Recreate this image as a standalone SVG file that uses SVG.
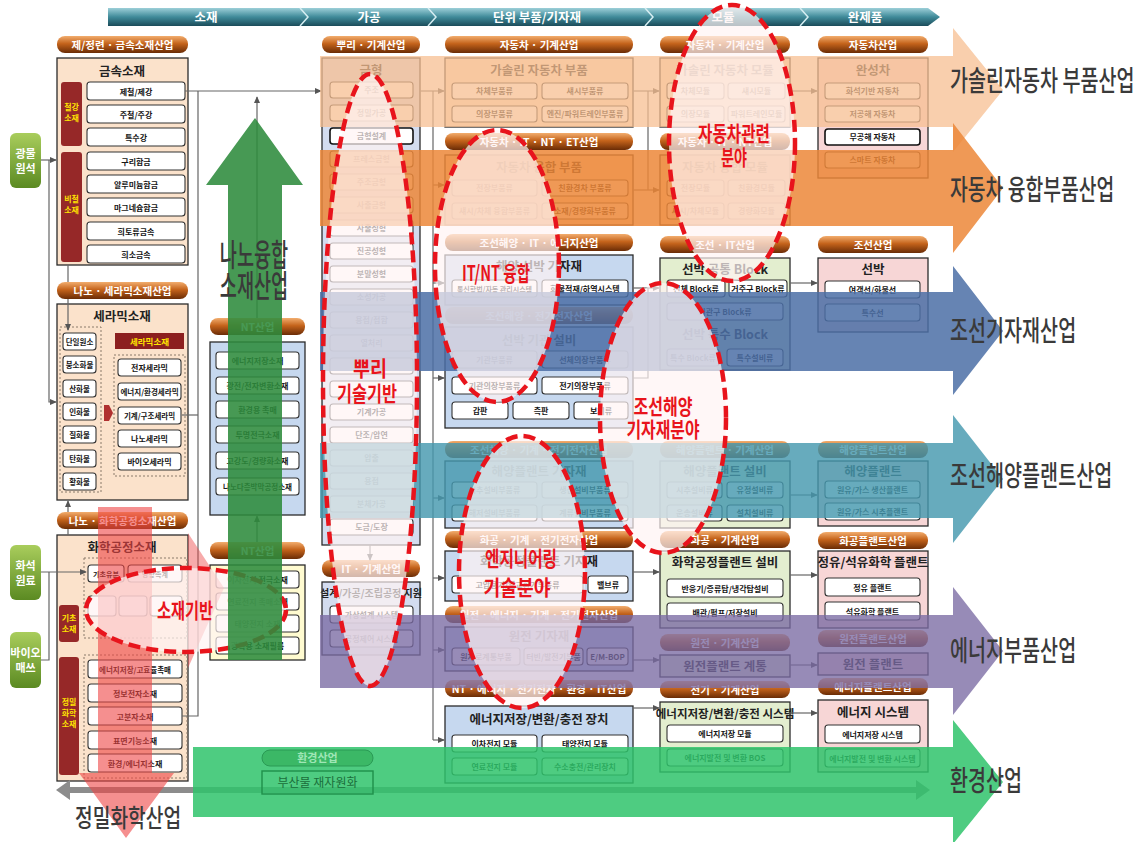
<svg xmlns="http://www.w3.org/2000/svg" width="1142" height="842" viewBox="0 0 1142 842" style="font-family:'Noto Sans CJK KR','Noto Sans',sans-serif">
<defs>
<linearGradient id="pillG" x1="0" y1="0" x2="0" y2="1"><stop offset="0" stop-color="#f2ad6e"/><stop offset=".45" stop-color="#c4631b"/><stop offset="1" stop-color="#6a2c06"/></linearGradient>
<linearGradient id="hdrG" x1="0" y1="0" x2="0" y2="1"><stop offset="0" stop-color="#9ccfd8"/><stop offset=".5" stop-color="#3f8a99"/><stop offset="1" stop-color="#1b4c5a"/></linearGradient>
<linearGradient id="srcG" x1="0" y1="0" x2="0" y2="1"><stop offset="0" stop-color="#a9cd5c"/><stop offset="1" stop-color="#5b8a22"/></linearGradient>
<marker id="ah" viewBox="0 0 8 8" refX="7" refY="4" markerWidth="7" markerHeight="7" orient="auto-start-reverse" markerUnits="userSpaceOnUse"><path d="M0,0.5 L8,4 L0,7.5 Z" fill="#555"/></marker>
</defs>
<style>
.pill{fill:url(#pillG)}
.pt{font-size:10.5px;font-weight:bold;fill:#fff;text-anchor:middle}
.bx{stroke:#2b2b2b;stroke-width:1.3}
.pe{fill:#fbe2cb}.bl{fill:#c6d8ef}.gr{fill:#e3eecf}.pk{fill:#f7d6d6}.lv{fill:#d3dcef}
.b{fill:#fff;stroke:#333;stroke-width:1.1}
.bt{font-size:8px;font-weight:bold;fill:#151515;text-anchor:middle}
.tt{font-size:12.5px;font-weight:bold;fill:#222;text-anchor:middle}
.rd{fill:#962828}
.rl{font-size:8px;font-weight:bold;fill:#ffe400;text-anchor:middle}
.st{font-size:11px;font-weight:bold;fill:#fff;text-anchor:middle}
.ln{stroke:#666;stroke-width:1.2;fill:none}
.la{marker-end:url(#ah)}
.dot{fill:none;stroke:#8a7a6a;stroke-width:1;stroke-dasharray:2 2}
.ell{fill:#fff4f4;fill-opacity:.7;stroke:#e8141c;stroke-width:4.5;stroke-dasharray:12 6}
.et{font-size:21px;font-weight:bold;fill:#e8141c;text-anchor:middle}
.big{font-size:28px;font-weight:500;fill:#3a3a3a}
.hl{font-size:12.5px;font-weight:bold;fill:#fff;text-anchor:middle}
</style>
<rect width="1142" height="842" fill="#fff"/>

<!-- stage header -->
<g id="header">
<path d="M108,8 H928 L940,17 L928,26 H108 Z" fill="url(#hdrG)"/>
<g fill="none" stroke="#d6eef2" stroke-width="1.5"><path d="M300,8 L308,17 L300,26"/><path d="M428,8 L436,17 L428,26"/><path d="M645,8 L653,17 L645,26"/><path d="M800,8 L808,17 L800,26"/></g>
<text class="hl" x="206" y="22">소재</text><text class="hl" x="369" y="22">가공</text><text class="hl" x="537" y="22">단위 부품/기자재</text><text class="hl" x="723" y="22">모듈</text><text class="hl" x="865" y="22">완제품</text>
</g>

<!-- raw material sources -->
<g id="src-mineral"><rect x="10" y="133" width="31" height="55" rx="6" fill="url(#srcG)"/><text class="st" x="25.5" y="158">광물</text><text class="st" x="25.5" y="173">원석</text></g>
<g id="src-fossil"><rect x="10" y="545" width="31" height="55" rx="6" fill="url(#srcG)"/><text class="st" x="25.5" y="570">화석</text><text class="st" x="25.5" y="585">원료</text></g>
<g id="src-bio"><rect x="10" y="632" width="31" height="56" rx="6" fill="url(#srcG)"/><text class="st" x="25.5" y="657">바이오</text><text class="st" x="25.5" y="672">매쓰</text></g>

<!-- metal materials -->
<g id="metal">
<rect class="pill" x="57" y="36" width="131" height="17" rx="8"/><text class="pt" x="122.5" y="48.5">제/정련 · 금속소재산업</text>
<rect class="bx pe" x="57" y="58" width="131" height="207"/>
<text class="tt" x="122" y="76">금속소재</text>
<rect class="rd" x="61" y="82" width="21" height="64" rx="3"/><text class="rl" x="71.5" y="110">철강</text><text class="rl" x="71.5" y="121">소재</text>
<rect class="rd" x="61" y="152" width="21" height="110" rx="3"/><text class="rl" x="71.5" y="202">비철</text><text class="rl" x="71.5" y="213">소재</text>
<rect class="b" x="87" y="82" width="98" height="18" rx="3"/><text class="bt" x="136" y="94.5">제철/제강</text>
<rect class="b" x="87" y="105" width="98" height="18" rx="3"/><text class="bt" x="136" y="117.5">주철/주강</text>
<rect class="b" x="87" y="128" width="98" height="18" rx="3"/><text class="bt" x="136" y="140.5">특수강</text>
<rect class="b" x="87" y="152" width="98" height="18" rx="3"/><text class="bt" x="136" y="164.5">구리합금</text>
<rect class="b" x="87" y="175" width="98" height="18" rx="3"/><text class="bt" x="136" y="187.5">알루미늄합금</text>
<rect class="b" x="87" y="198" width="98" height="18" rx="3"/><text class="bt" x="136" y="210.5">마그네슘합금</text>
<rect class="b" x="87" y="222" width="98" height="18" rx="3"/><text class="bt" x="136" y="234.5">희토류금속</text>
<rect class="b" x="87" y="245" width="98" height="18" rx="3"/><text class="bt" x="136" y="257.5">희소금속</text>
</g>

<!-- ceramic materials -->
<g id="ceramic">
<rect class="pill" x="57" y="282" width="131" height="17" rx="8"/><text class="pt" x="122.5" y="294.5">나노 · 세라믹소재산업</text>
<rect class="bx pe" x="57" y="304" width="131" height="196"/>
<text class="tt" x="122" y="321">세라믹소재</text>
<rect class="dot" x="60" y="327" width="41" height="165"/>
<rect class="b" x="63" y="333" width="33" height="17" rx="3"/><text class="bt" x="79.5" y="344.5" style="font-size:7.5px">단일원소</text>
<rect class="b" x="63" y="356" width="33" height="17" rx="3"/><text class="bt" x="79.5" y="367.5" style="font-size:7.5px">붕소화물</text>
<rect class="b" x="63" y="380" width="33" height="17" rx="3"/><text class="bt" x="79.5" y="391.5" style="font-size:7.5px">산화물</text>
<rect class="b" x="63" y="403" width="33" height="17" rx="3"/><text class="bt" x="79.5" y="414.5" style="font-size:7.5px">인화물</text>
<rect class="b" x="63" y="426" width="33" height="17" rx="3"/><text class="bt" x="79.5" y="437.5" style="font-size:7.5px">질화물</text>
<rect class="b" x="63" y="450" width="33" height="17" rx="3"/><text class="bt" x="79.5" y="461.5" style="font-size:7.5px">탄화물</text>
<rect class="b" x="63" y="473" width="33" height="17" rx="3"/><text class="bt" x="79.5" y="484.5" style="font-size:7.5px">황화물</text>
<polygon points="104,405 109,405 113,413 109,421 104,421" fill="#b03030"/>
<rect x="115" y="333" width="69" height="16" fill="#8c1f1f"/><text class="rl" x="149.5" y="344.5" style="font-size:8.5px">세라믹소재</text>
<rect class="dot" x="114" y="355" width="71" height="121"/>
<rect class="b" x="118" y="359" width="63" height="17" rx="3"/><text class="bt" x="149.5" y="370.5">전자세라믹</text>
<rect class="b" x="118" y="383" width="63" height="17" rx="3"/><text class="bt" x="149.5" y="394.5" style="font-size:7.5px">에너지/환경세라믹</text>
<rect class="b" x="118" y="407" width="63" height="17" rx="3"/><text class="bt" x="149.5" y="418.5" style="font-size:7.5px">기계/구조세라믹</text>
<rect class="b" x="118" y="430" width="63" height="17" rx="3"/><text class="bt" x="149.5" y="441.5">나노세라믹</text>
<rect class="b" x="118" y="453" width="63" height="17" rx="3"/><text class="bt" x="149.5" y="464.5">바이오세라믹</text>
</g>

<!-- chemical process materials -->
<g id="chemical">
<rect class="pill" x="57" y="512" width="131" height="17" rx="8"/><text class="pt" x="122.5" y="524.5">나노 · 화학공정소재산업</text>
<rect class="bx pe" x="57" y="535" width="131" height="246"/>
<text class="tt" x="122" y="552">화학공정소재</text>
<rect class="dot" x="84" y="558" width="103" height="80"/>
<rect class="dot" x="84" y="655" width="103" height="123"/>
<rect class="b" x="88" y="565" width="36" height="17" rx="3"/><text class="bt" x="106" y="576.5" style="font-size:7px">기초유분</text>
<rect class="b" x="128" y="565" width="54" height="17" rx="3"/><text class="bt" x="155" y="576.5" style="font-size:7px">방향족계</text>
<rect class="b" x="88" y="596" width="28" height="20" rx="3"/>
<rect class="b" x="119" y="596" width="28" height="20" rx="3"/>
<rect class="b" x="150" y="596" width="32" height="20" rx="3"/>
<rect class="rd" x="59" y="605" width="20" height="37" rx="3"/><text class="rl" x="69" y="621">기초</text><text class="rl" x="69" y="632">소재</text>
<rect class="rd" x="59" y="657" width="20" height="118" rx="3"/><text class="rl" x="69" y="705">정밀</text><text class="rl" x="69" y="716">화학</text><text class="rl" x="69" y="727">소재</text>
<rect class="b" x="88" y="660" width="94" height="18" rx="3"/><text class="bt" x="135" y="672.5" style="font-size:7.5px">에너지저장/고효율촉매</text>
<rect class="b" x="88" y="684" width="94" height="18" rx="3"/><text class="bt" x="135" y="696.5">정보전자소재</text>
<rect class="b" x="88" y="707" width="94" height="18" rx="3"/><text class="bt" x="135" y="719.5">고분자소재</text>
<rect class="b" x="88" y="731" width="94" height="18" rx="3"/><text class="bt" x="135" y="743.5">표면기능소재</text>
<rect class="b" x="88" y="754" width="94" height="18" rx="3"/><text class="bt" x="135" y="766.5">환경/에너지소재</text>
</g>

<!-- NT materials -->
<g id="nt-1">
<rect class="pill" x="210" y="318" width="95" height="17" rx="8"/><text class="pt" x="257.5" y="330.5">NT산업</text>
<rect class="bx bl" x="210" y="342" width="95" height="173"/>
<rect class="b" x="216" y="352" width="83" height="17" rx="3"/><text class="bt" x="257.5" y="363.5">에너지저장소재</text>
<rect class="b" x="216" y="377" width="83" height="17" rx="3"/><text class="bt" x="257.5" y="388.5">광전/전자변환소재</text>
<rect class="b" x="216" y="401" width="83" height="17" rx="3"/><text class="bt" x="257.5" y="412.5">환경용 촉매</text>
<rect class="b" x="216" y="426" width="83" height="17" rx="3"/><text class="bt" x="257.5" y="437.5">투명전극소재</text>
<rect class="b" x="216" y="452" width="83" height="17" rx="3"/><text class="bt" x="257.5" y="463.5">고강도/경량화소재</text>
<rect class="b" x="216" y="478" width="83" height="17" rx="3"/><text class="bt" x="257.5" y="489.5" style="font-size:7.5px">나노다층박막공정소재</text>
</g>
<g id="nt-2">
<rect class="pill" x="210" y="542" width="95" height="17" rx="8"/><text class="pt" x="257.5" y="554.5">NT산업</text>
<rect class="bx" x="210" y="565" width="95" height="95" fill="#fffbd0"/>
<rect class="b" x="216" y="571" width="83" height="17" rx="3"/><text class="bt" x="257.5" y="582.5">이차전지 전극소재</text>
<rect class="b" x="216" y="593" width="83" height="17" rx="3"/><text class="bt" x="257.5" y="604.5">연료전지 촉매소재</text>
<rect class="b" x="216" y="615" width="83" height="17" rx="3"/><text class="bt" x="257.5" y="626.5">태양전지 소재</text>
<rect class="b" x="216" y="637" width="83" height="17" rx="3"/><text class="bt" x="257.5" y="648.5">광학용 소재필름</text>
</g>

<!-- root technology (뿌리) -->
<g id="root">
<rect class="pill" x="322" y="36" width="98" height="17" rx="8"/><text class="pt" x="371" y="48.5">뿌리 · 기계산업</text>
<rect class="bx lv" x="322" y="58" width="98" height="487"/>
<text class="tt" x="371" y="75">금형</text>
<rect class="b" x="330" y="82" width="83" height="16" rx="3"/><text class="bt" x="371.5" y="93">주조</text>
<rect class="b" x="330" y="105" width="83" height="16" rx="3"/><text class="bt" x="371.5" y="116">정밀가공</text>
<rect class="b" x="330" y="128" width="83" height="16" rx="3" style="stroke:#111;stroke-width:1.6"/><text class="bt" x="371.5" y="139">금형설계</text>
<rect class="b" x="330" y="151" width="83" height="16" rx="3"/><text class="bt" x="371.5" y="162">프레스금형</text>
<rect class="b" x="330" y="174" width="83" height="16" rx="3"/><text class="bt" x="371.5" y="185">주조금형</text>
<rect class="b" x="330" y="197" width="83" height="16" rx="3"/><text class="bt" x="371.5" y="208">사출금형</text>
<rect class="b" x="330" y="220" width="83" height="16" rx="3"/><text class="bt" x="371.5" y="231">사출성형</text>
<rect class="b" x="330" y="243" width="83" height="16" rx="3"/><text class="bt" x="371.5" y="254">진공성형</text>
<rect class="b" x="330" y="266" width="83" height="16" rx="3"/><text class="bt" x="371.5" y="277">분말성형</text>
<rect class="b" x="330" y="289" width="83" height="16" rx="3"/><text class="bt" x="371.5" y="300">소성가공</text>
<rect class="b" x="330" y="312" width="83" height="16" rx="3"/><text class="bt" x="371.5" y="323">용접/접합</text>
<rect class="b" x="330" y="335" width="83" height="16" rx="3"/><text class="bt" x="371.5" y="346">열처리</text>
<rect class="b" x="330" y="358" width="83" height="16" rx="3"/>
<rect class="b" x="330" y="381" width="83" height="16" rx="3"/>
<rect class="b" x="330" y="404" width="83" height="16" rx="3"/><text class="bt" x="371.5" y="415">기계가공</text>
<rect class="b" x="330" y="427" width="83" height="16" rx="3"/><text class="bt" x="371.5" y="438">단조/압연</text>
<rect class="b" x="330" y="450" width="83" height="16" rx="3"/><text class="bt" x="371.5" y="461">압출</text>
<rect class="b" x="330" y="473" width="83" height="16" rx="3"/><text class="bt" x="371.5" y="484">용접</text>
<rect class="b" x="330" y="496" width="83" height="16" rx="3"/><text class="bt" x="371.5" y="507">분체가공</text>
<rect class="b" x="330" y="519" width="83" height="16" rx="3"/><text class="bt" x="371.5" y="530">도금/도장</text>
</g>
<g id="root-it">
<rect class="pill" x="322" y="560" width="98" height="17" rx="8"/><text class="pt" x="371" y="572.5">IT · 기계산업</text>
<rect class="bx lv" x="322" y="582" width="98" height="73"/>
<text x="371" y="597" style="font-size:10px;font-weight:bold;fill:#222;text-anchor:middle">설계/가공/조립공정 지원</text>
<rect class="b" x="330" y="606" width="83" height="17" rx="3"/><text class="bt" x="371.5" y="617.5">가상설계 시스템</text>
<rect class="b" x="330" y="630" width="83" height="17" rx="3"/><text class="bt" x="371.5" y="641.5">공정제어 시스템</text>
</g>

<!-- unit parts / equipment -->
<g id="part-gasoline">
<rect class="pill" x="445" y="36" width="188" height="17" rx="8"/><text class="pt" x="539" y="48.5">자동차 · 기계산업</text>
<rect class="bx pe" x="445" y="58" width="188" height="69"/>
<text class="tt" x="539" y="75">가솔린 자동차 부품</text>
<rect class="b" x="452" y="83" width="85" height="16" rx="3"/><text class="bt" x="494.5" y="94">차체부품류</text>
<rect class="b" x="542" y="83" width="86" height="16" rx="3"/><text class="bt" x="585" y="94">섀시부품류</text>
<rect class="b" x="452" y="106" width="85" height="16" rx="3"/><text class="bt" x="494.5" y="117">의장부품류</text>
<rect class="b" x="542" y="106" width="86" height="16" rx="3"/><text class="bt" x="585" y="117">엔진/파워트레인부품류</text>
</g>
<g id="part-fusion">
<rect class="pill" x="445" y="133" width="188" height="17" rx="8"/><text class="pt" x="539" y="145.5">자동차 · IT · NT · ET산업</text>
<rect class="bx pe" x="445" y="155" width="188" height="70"/>
<text class="tt" x="539" y="172">자동차 융합 부품</text>
<rect class="b" x="452" y="180" width="85" height="16" rx="3"/><text class="bt" x="494.5" y="191">전장부품류</text>
<rect class="b" x="542" y="180" width="86" height="16" rx="3"/><text class="bt" x="585" y="191">친환경차 부품류</text>
<rect class="b" x="452" y="203" width="85" height="16" rx="3"/><text class="bt" x="494.5" y="214">섀시/차체 융합부품류</text>
<rect class="b" x="542" y="203" width="86" height="16" rx="3"/><text class="bt" x="585" y="214">소재/경량화부품류</text>
</g>
<g id="part-ship">
<rect class="pill" x="445" y="234" width="188" height="17" rx="8"/><text class="pt" x="539" y="246.5">조선해양 · IT · 에너지산업</text>
<rect class="bx bl" x="445" y="255" width="188" height="50"/>
<text class="tt" x="539" y="271">해양 선박 기자재</text>
<rect class="b" x="452" y="280" width="85" height="17" rx="3"/><text class="bt" x="494.5" y="291.5" style="font-size:7px">통신항법/자동 관리시스템</text>
<rect class="b" x="542" y="280" width="86" height="17" rx="3"/><text class="bt" x="585" y="291.5">화물적재/하역시스템</text>
</g>
<g id="part-engine">
<rect class="pill" x="445" y="307" width="188" height="17" rx="8"/><text class="pt" x="539" y="319.5">조선해양 · 전기전자산업</text>
<rect class="bx bl" x="445" y="327" width="188" height="101"/>
<text class="tt" x="539" y="345">선박 기관 설비</text>
<rect class="b" x="452" y="351" width="85" height="17" rx="3"/><text class="bt" x="494.5" y="362.5">기관부품류</text>
<rect class="b" x="542" y="351" width="86" height="17" rx="3"/><text class="bt" x="585" y="362.5">선체의장부품류</text>
<rect class="b" x="452" y="377" width="85" height="17" rx="3"/><text class="bt" x="494.5" y="388.5">기관의장부품류</text>
<rect class="b" x="542" y="377" width="86" height="17" rx="3"/><text class="bt" x="585" y="388.5">전기의장부품류</text>
<rect class="b" x="452" y="402" width="56" height="17" rx="3"/><text class="bt" x="480" y="413.5">갑판</text>
<rect class="b" x="513" y="402" width="56" height="17" rx="3"/><text class="bt" x="541" y="413.5">측판</text>
<rect class="b" x="574" y="402" width="54" height="17" rx="3"/><text class="bt" x="601" y="413.5">보기류</text>
</g>
<g id="part-offshore">
<rect class="pill" x="445" y="441" width="188" height="17" rx="8"/><text class="pt" x="539" y="453.5">조선해양 · 기계 · 전기전자산업</text>
<rect class="bx bl" x="445" y="461" width="188" height="67"/>
<text class="tt" x="539" y="476">해양플랜트 기자재</text>
<rect class="b" x="452" y="482" width="85" height="16" rx="3"/><text class="bt" x="494.5" y="493">시추설비부품류</text>
<rect class="b" x="542" y="482" width="86" height="16" rx="3"/><text class="bt" x="585" y="493">생산설비부품류</text>
<rect class="b" x="452" y="505" width="85" height="16" rx="3"/><text class="bt" x="494.5" y="516">해저설비부품류</text>
<rect class="b" x="542" y="505" width="86" height="16" rx="3"/><text class="bt" x="585" y="516">계류설비부품류</text>
</g>
<g id="part-chem">
<rect class="pill" x="445" y="531" width="188" height="17" rx="8"/><text class="pt" x="539" y="543.5">화공 · 기계 · 전기전자산업</text>
<rect class="bx bl" x="445" y="551" width="188" height="50"/>
<text class="tt" x="539" y="566">화학공정플랜트 기자재</text>
<rect class="b" x="452" y="576" width="131" height="17" rx="3"/><text class="bt" x="517.5" y="587.5">고압용기/열교환기부품류</text>
<rect class="b" x="588" y="576" width="40" height="17" rx="3"/><text class="bt" x="608" y="587.5">밸브류</text>
</g>
<g id="part-nuclear">
<rect class="pill" x="445" y="606" width="188" height="17" rx="8"/><text class="pt" x="539" y="618.5">원전 · 에너지 · 기계 · 전기전자산업</text>
<rect class="bx bl" x="445" y="627" width="188" height="44"/>
<text class="tt" x="539" y="641">원전 기자재</text>
<rect class="b" x="452" y="648" width="68" height="17" rx="3"/><text class="bt" x="486" y="659.5">원자로계통부품</text>
<rect class="b" x="524" y="648" width="59" height="17" rx="3"/><text class="bt" x="553.5" y="659.5">터빈/발전기부품</text>
<rect class="b" x="587" y="648" width="41" height="17" rx="3"/><text class="bt" x="607.5" y="659.5">E/M-BOP</text>
</g>
<g id="part-energy">
<rect class="pill" x="445" y="680" width="188" height="17" rx="8"/><text class="pt" x="539" y="692.5">NT · 에너지 · 전기전자 · 환경 · IT산업</text>
<rect class="bx bl" x="445" y="706" width="188" height="77"/>
<text class="tt" x="539" y="724">에너지저장/변환/충전 장치</text>
<rect class="b" x="452" y="735" width="85" height="17" rx="3"/><text class="bt" x="494.5" y="746.5">이차전지 모듈</text>
<rect class="b" x="542" y="735" width="86" height="17" rx="3"/><text class="bt" x="585" y="746.5">태양전지 모듈</text>
<rect class="b" x="452" y="758" width="85" height="17" rx="3"/><text class="bt" x="494.5" y="769.5">연료전지 모듈</text>
<rect class="b" x="542" y="758" width="86" height="17" rx="3"/><text class="bt" x="585" y="769.5">수소충전/관리장치</text>
</g>

<!-- modules -->
<g id="mod-gasoline">
<rect class="pill" x="660" y="36" width="130" height="17" rx="8"/><text class="pt" x="725" y="48.5">자동차 · 기계산업</text>
<rect class="bx pe" x="660" y="58" width="130" height="69"/>
<text class="tt" x="725" y="75">가솔린 자동차 모듈</text>
<rect class="b" x="667" y="83" width="57" height="16" rx="3"/><text class="bt" x="695.5" y="94">차체모듈</text>
<rect class="b" x="728" y="83" width="57" height="16" rx="3"/><text class="bt" x="756.5" y="94">섀시모듈</text>
<rect class="b" x="667" y="106" width="57" height="16" rx="3"/><text class="bt" x="695.5" y="117">의장모듈</text>
<rect class="b" x="728" y="106" width="57" height="16" rx="3"/><text class="bt" x="756.5" y="117">파워트레인모듈</text>
</g>
<g id="mod-fusion">
<rect class="pill" x="660" y="133" width="130" height="17" rx="8"/><text class="pt" x="725" y="145.5">자동차 · IT · NT산업</text>
<rect class="bx pe" x="660" y="155" width="130" height="70"/>
<text class="tt" x="725" y="172">자동차 융합 모듈</text>
<rect class="b" x="667" y="180" width="57" height="16" rx="3"/><text class="bt" x="695.5" y="191">전장모듈</text>
<rect class="b" x="728" y="180" width="57" height="16" rx="3"/><text class="bt" x="756.5" y="191">친환경모듈</text>
<rect class="b" x="667" y="203" width="57" height="16" rx="3"/><text class="bt" x="695.5" y="214">섀시/차체모듈</text>
<rect class="b" x="728" y="203" width="57" height="16" rx="3"/><text class="bt" x="756.5" y="214">경량화모듈</text>
</g>
<g id="mod-ship">
<rect class="pill" x="660" y="236" width="130" height="17" rx="8"/><text class="pt" x="725" y="248.5">조선 · IT산업</text>
<rect class="bx gr" x="660" y="258" width="130" height="112"/>
<text class="tt" x="725" y="274">선박 공통 Block</text>
<rect class="b" x="667" y="280" width="58" height="17" rx="3"/><text class="bt" x="696" y="291.5">선체 Block류</text>
<rect class="b" x="729" y="280" width="58" height="17" rx="3"/><text class="bt" x="758" y="291.5">거주구 Block류</text>
<rect class="b" x="667" y="303" width="116" height="17" rx="3"/><text class="bt" x="725" y="314.5">기관구 Block류</text>
<text class="tt" x="725" y="339">선박 특수 Block</text>
<rect class="b" x="667" y="349" width="52" height="17" rx="3"/><text class="bt" x="693" y="360.5">특수 Block류</text>
<rect class="b" x="727" y="349" width="56" height="17" rx="3"/><text class="bt" x="755" y="360.5">특수설비류</text>
</g>
<g id="mod-offshore">
<rect class="pill" x="660" y="441" width="130" height="17" rx="8"/><text class="pt" x="725" y="453.5">해양플랜트 · 기계산업</text>
<rect class="bx gr" x="660" y="461" width="130" height="67"/>
<text class="tt" x="725" y="476">해양플랜트 설비</text>
<rect class="b" x="667" y="482" width="55" height="16" rx="3"/><text class="bt" x="694.5" y="493">시추설비류</text>
<rect class="b" x="727" y="482" width="56" height="16" rx="3"/><text class="bt" x="755" y="493">유정설비류</text>
<rect class="b" x="667" y="505" width="55" height="16" rx="3"/><text class="bt" x="694.5" y="516">운송설비류</text>
<rect class="b" x="727" y="505" width="56" height="16" rx="3"/><text class="bt" x="755" y="516">설치설비류</text>
</g>
<g id="mod-chem">
<rect class="pill" x="660" y="531" width="130" height="17" rx="8"/><text class="pt" x="725" y="543.5">화공 · 기계산업</text>
<rect class="bx gr" x="660" y="551" width="130" height="77"/>
<text class="tt" x="725" y="567">화학공정플랜트 설비</text>
<rect class="b" x="667" y="579" width="116" height="18" rx="3"/><text class="bt" x="725" y="591.5">반응기/증류탑/냉각탑설비</text>
<rect class="b" x="667" y="603" width="116" height="18" rx="3"/><text class="bt" x="725" y="615.5">배관/펌프/저장설비</text>
</g>
<g id="mod-nuclear">
<rect class="pill" x="660" y="634" width="130" height="17" rx="8"/><text class="pt" x="725" y="646.5">원전 · 기계산업</text>
<rect class="bx gr" x="660" y="655" width="130" height="22"/>
<text class="tt" x="725" y="671">원전플랜트 계통</text>
</g>
<g id="mod-energy">
<rect class="pill" x="660" y="681" width="130" height="17" rx="8"/><text class="pt" x="725" y="693.5">전기 · 기계산업</text>
<rect class="bx gr" x="660" y="702" width="130" height="70"/>
<text x="725" y="718" style="font-size:11.5px;font-weight:bold;fill:#222;text-anchor:middle">에너지저장/변환/충전 시스템</text>
<rect class="b" x="667" y="725" width="116" height="17" rx="3"/><text class="bt" x="725" y="736.5">에너지저장 모듈</text>
<rect class="b" x="667" y="749" width="116" height="17" rx="3"/><text class="bt" x="725" y="760.5">에너지발전 및 변환 BOS</text>
</g>

<!-- finished products -->
<g id="prod-car">
<rect class="pill" x="818" y="36" width="110" height="17" rx="8"/><text class="pt" x="873" y="48.5">자동차산업</text>
<rect class="bx pk" x="818" y="58" width="110" height="120"/>
<text class="tt" x="873" y="75">완성차</text>
<rect class="b" x="825" y="83" width="95" height="16" rx="3"/><text class="bt" x="872.5" y="94">화석기반 자동차</text>
<rect class="b" x="825" y="106" width="95" height="16" rx="3"/><text class="bt" x="872.5" y="117">저공해 자동차</text>
<rect class="b" x="825" y="129" width="95" height="16" rx="3" style="stroke:#111;stroke-width:1.6"/><text class="bt" x="872.5" y="140">무공해 자동차</text>
<rect class="b" x="825" y="152" width="95" height="16" rx="3"/><text class="bt" x="872.5" y="163">스마트 자동차</text>
</g>
<g id="prod-ship">
<rect class="pill" x="818" y="236" width="110" height="17" rx="8"/><text class="pt" x="873" y="248.5">조선산업</text>
<rect class="bx pk" x="818" y="258" width="110" height="74"/>
<text class="tt" x="873" y="274">선박</text>
<rect class="b" x="825" y="281" width="95" height="17" rx="3"/><text class="bt" x="872.5" y="292.5">여객선/화물선</text>
<rect class="b" x="825" y="304" width="95" height="17" rx="3"/><text class="bt" x="872.5" y="315.5">특수선</text>
</g>
<g id="prod-offshore">
<rect class="pill" x="818" y="441" width="110" height="17" rx="8"/><text class="pt" x="873" y="453.5">해양플랜트산업</text>
<rect class="bx pk" x="818" y="461" width="110" height="65"/>
<text class="tt" x="873" y="476">해양플랜트</text>
<rect class="b" x="825" y="481" width="95" height="17" rx="3"/><text class="bt" x="872.5" y="492.5">원유/가스 생산플랜트</text>
<rect class="b" x="825" y="503" width="95" height="17" rx="3"/><text class="bt" x="872.5" y="514.5">원유/가스 시추플랜트</text>
</g>
<g id="prod-chem">
<rect class="pill" x="818" y="532" width="110" height="17" rx="8"/><text class="pt" x="873" y="544.5">화공플랜트산업</text>
<rect class="bx pk" x="818" y="551" width="110" height="77"/>
<text class="tt" x="873" y="567">정유/석유화학 플랜트</text>
<rect class="b" x="825" y="578" width="95" height="18" rx="3"/><text class="bt" x="872.5" y="590.5">정유 플랜트</text>
<rect class="b" x="825" y="602" width="95" height="18" rx="3"/><text class="bt" x="872.5" y="614.5">석유화학 플랜트</text>
</g>
<g id="prod-nuclear">
<rect class="pill" x="818" y="630" width="110" height="17" rx="8"/><text class="pt" x="873" y="642.5">원전플랜트산업</text>
<rect class="bx pk" x="818" y="653" width="110" height="22"/>
<text class="tt" x="873" y="669">원전 플랜트</text>
</g>
<g id="prod-energy">
<rect class="pill" x="818" y="678" width="110" height="17" rx="8"/><text class="pt" x="873" y="690.5">에너지플랜트산업</text>
<rect class="bx pk" x="818" y="700" width="110" height="72"/>
<text class="tt" x="873" y="717">에너지 시스템</text>
<rect class="b" x="825" y="725" width="95" height="18" rx="3"/><text class="bt" x="872.5" y="737.5">에너지저장 시스템</text>
<rect class="b" x="825" y="749" width="95" height="18" rx="3"/><text class="bt" x="872.5" y="761.5">에너지발전 및 변환 시스템</text>
</g>

<!-- connectors -->
<g id="connectors">
<path class="ln la" d="M41,160 H56"/>
<path class="ln la" d="M49,160 V402 H56"/>
<path class="ln la" d="M41,572 H86"/>
<path class="ln" d="M41,660 H49 V572"/>
<path class="ln" d="M68,265 V282"/>
<path class="ln la" d="M68,299 V330"/>
<path class="ln la" d="M68,512 V501"/>
<path class="ln" d="M68,529 V535"/>
<path class="ln la" d="M185,91 H321"/>
<path class="ln" d="M198,91 V716 H182"/>
<path class="ln" d="M182,415 H198"/>
<path class="ln la" d="M257,318 V97"/>
<path class="ln la" d="M257,542 V516"/>
<path class="ln la" d="M370,545 V560"/>
<path class="ln la" d="M420,91 H444"/>
<path class="ln" d="M433,91 V740"/>
<path class="ln la" d="M433,185 H444"/>
<path class="ln la" d="M433,283 H444"/>
<path class="ln la" d="M433,378 H444"/>
<path class="ln la" d="M433,498 H444"/>
<path class="ln la" d="M433,578 H444"/>
<path class="ln la" d="M433,650 H444"/>
<path class="ln la" d="M433,740 H444"/>
<path class="ln la" d="M633,91 H659"/>
<path class="ln la" d="M633,190 H659"/>
<path class="ln" d="M648,91 V190"/>
<path class="ln la" d="M633,288 H659"/>
<path class="ln" d="M633,378 H648 V288"/>
<path class="ln la" d="M633,572 H659"/>
<path class="ln la" d="M633,660 H659"/>
<path class="ln la" d="M633,708 H659"/>
<path class="ln la" d="M790,91 H817"/>
<path class="ln la" d="M790,283 H817"/>
<path class="ln la" d="M790,495 H817"/>
<path class="ln la" d="M790,575 H817"/>
<path class="ln la" d="M790,665 H817"/>
<path class="ln la" d="M790,713 H817"/>
<!-- two-way flow along the bottom -->
<path d="M64,790 H920" stroke="#8c8c8c" stroke-width="6" fill="none"/>
<polygon points="56,790 70,780 70,800" fill="#8c8c8c"/>
<polygon points="930,790 916,780 916,800" fill="#8c8c8c"/>
</g>

<!-- industry bands -->
<g id="bands">
<path d="M320,56 H953 V28 L1003,90 L953,152 V127 H320 Z" fill="#f7bf92" fill-opacity=".75"/>
<path d="M320,150 H953 V123 L1003,188 L953,253 V226 H320 Z" fill="#ec8738" fill-opacity=".85"/>
<path d="M320,292 H953 V266 L1003,331 L953,395 V371 H320 Z" fill="#4b6ea6" fill-opacity=".85"/>
<path d="M320,443 H953 V415 L1003,479 L953,543 V518 H320 Z" fill="#4599ae" fill-opacity=".82"/>
<path d="M320,615 H953 V587 L1003,651 L953,715 V688 H320 Z" fill="#7a6aa3" fill-opacity=".78"/>
<path d="M193,747 H953 V720 L1003,782 L953,844 V817 H193 Z" fill="#2fc36b" fill-opacity=".85"/>
</g>
<g id="env">
<rect x="262" y="750" width="111" height="16" rx="8" fill="#3bb866" stroke="#2a9a55"/>
<text x="317.5" y="762" style="font-size:11px;font-weight:bold;fill:#9fe6b6;text-anchor:middle">환경산업</text>
<rect x="262" y="771" width="111" height="23" fill="none" stroke="#1f8f4a" stroke-width="1.4"/>
<text x="317.5" y="787" style="font-size:12px;fill:#1a6e3a;text-anchor:middle">부산물 재자원화</text>
</g>

<!-- precision chemistry arrow -->
<g id="chem-arrow">
<path d="M98,507 H152 V773 H174 L126,838 L79,773 H98 Z" fill="#ee4444" fill-opacity=".6"/>
<polygon points="188,533 224,588 188,668" fill="#ee4444" fill-opacity=".45"/>
</g>

<!-- focus areas -->
<g id="focus">
<ellipse class="ell" cx="186" cy="610" rx="100" ry="42"/>
<ellipse class="ell" cx="370" cy="380" rx="47" ry="306"/>
<ellipse class="ell" cx="497" cy="266" rx="62" ry="136"/>
<ellipse class="ell" cx="732" cy="143" rx="63" ry="138"/>
<ellipse class="ell" cx="663" cy="418" rx="63" ry="135"/>
<ellipse class="ell" cx="522" cy="572" rx="63" ry="136"/>
</g>

<!-- nano convergence arrow -->
<g id="nano-arrow">
<path d="M228,660 V185 H206 L255,118 L303,185 H282 V660 Z" fill="#2e8b3c" fill-opacity=".88"/>
<text class="big" transform="translate(254,266) scale(0.6,1)" text-anchor="middle" style="font-size:31px">나노융합</text>
<text class="big" transform="translate(254,297) scale(0.6,1)" text-anchor="middle" style="font-size:31px">소재산업</text>
</g>

<g id="focus-labels">
<text class="et" x="370" y="376" textLength="34" lengthAdjust="spacingAndGlyphs">뿌리</text>
<text class="et" x="367" y="401" textLength="60" lengthAdjust="spacingAndGlyphs">기술기반</text>
<text class="et" x="496" y="281" textLength="68" lengthAdjust="spacingAndGlyphs">IT/NT 융합</text>
<text class="et" x="734" y="141" textLength="72" lengthAdjust="spacingAndGlyphs">자동차관련</text>
<text class="et" x="734" y="165" textLength="26" lengthAdjust="spacingAndGlyphs">분야</text>
<text class="et" x="663" y="414" textLength="59" lengthAdjust="spacingAndGlyphs">조선해양</text>
<text class="et" x="663" y="437" textLength="73" lengthAdjust="spacingAndGlyphs">기자재분야</text>
<text class="et" x="521" y="566" textLength="72" lengthAdjust="spacingAndGlyphs">엔지니어링</text>
<text class="et" x="517" y="595" textLength="67" lengthAdjust="spacingAndGlyphs">기술분야</text>
<text class="et" x="185" y="618" textLength="56" lengthAdjust="spacingAndGlyphs">소재기반</text>
</g>

<g id="band-labels">
<text class="big" transform="translate(950,91) scale(0.7,1)">가솔린자동차 부품산업</text>
<text class="big" transform="translate(950,200) scale(0.69,1)">자동차 융합부품산업</text>
<text class="big" transform="translate(950,341) scale(0.7,1)">조선기자재산업</text>
<text class="big" transform="translate(950,486) scale(0.7,1)">조선해양플랜트산업</text>
<text class="big" transform="translate(950,661) scale(0.7,1)">에너지부품산업</text>
<text class="big" transform="translate(950,791) scale(0.7,1)">환경산업</text>
<text class="big" transform="translate(75,827) scale(0.77,1)" style="font-size:25px">정밀화학산업</text>
</g>
</svg>
